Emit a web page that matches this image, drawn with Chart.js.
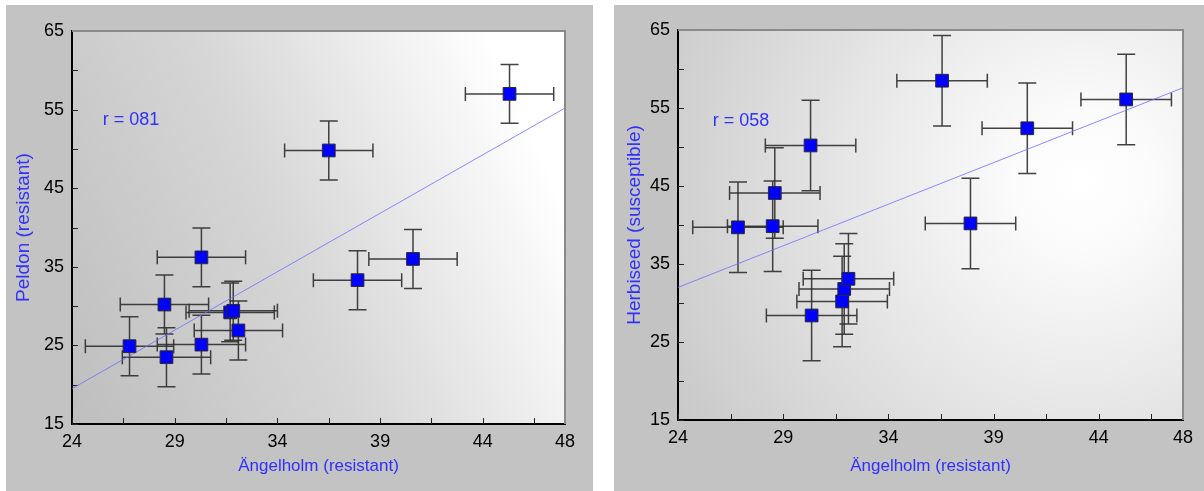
<!DOCTYPE html>
<html><head><meta charset="utf-8">
<script src="https://cdn.jsdelivr.net/npm/chart.js@4.4.0/dist/chart.umd.min.js"></script>
<style>
html,body{margin:0;padding:0;background:#fff;width:1204px;height:491px;overflow:hidden}
canvas{position:absolute;top:0}
#c1{left:0}
#c2{left:604px}
</style></head><body>
<canvas id="c1" width="600" height="491"></canvas>
<canvas id="c2" width="600" height="491"></canvas>
<script>
// ---- data ----
const xTickLabels = [24, 29, 34, 39, 44, 48];
const xTickMarks = [24, 26.5, 29, 31.5, 34, 36.5, 39, 41.5, 44, 46.5, 48];
const yTickMarks = [15, 20, 25, 30, 35, 40, 45, 50, 55, 60, 65];

// Panel 1: Peldon vs Ängelholm
const angelholmA = [26.8, 28.5, 28.6, 30.3, 30.3, 31.7, 31.85, 32.1, 36.5, 37.9, 40.6, 45.3];
const peldon     = [24.9, 30.2, 23.5, 36.2, 25.1, 29.2, 29.4, 26.9, 49.8, 33.3, 36.0, 57.0];
const angelholmErrA = [2.15, 2.15, 2.15, 2.15, 2.15, 2.15, 2.15, 2.15, 2.15, 2.15, 2.15, 2.15];
const peldonErr     = [3.75, 3.75, 3.75, 3.75, 3.75, 3.75, 3.75, 3.75, 3.75, 3.75, 3.75, 3.75];
const fitA = [{x: 24, y: 19.5}, {x: 48, y: 55.2}];
const rTextA = 'r = 081';

// Panel 2: Herbiseed vs Ängelholm
const angelholmB = [26.85, 28.5, 28.6, 30.3, 30.35, 31.8, 31.9, 32.1, 36.55, 37.9, 40.6, 45.3];
const herbiseed  = [39.7, 39.85, 44.1, 50.2, 28.4, 30.2, 31.8, 33.1, 58.5, 40.2, 52.4, 56.1];
const angelholmErrB = [2.15, 2.15, 2.15, 2.15, 2.15, 2.15, 2.15, 2.15, 2.15, 2.15, 2.15, 2.15];
const herbiseedErr  = [5.8, 5.8, 5.8, 5.8, 5.8, 5.8, 5.8, 5.8, 5.8, 5.8, 5.8, 5.8];
const fitB = [{x: 24, y: 32.0}, {x: 48, y: 57.6}];
const rTextB = 'r = 058';

const FONT = '"Liberation Sans", Arial, sans-serif';
const BLUE_TEXT = '#3030ff';

function decoPlugin(cfg) {
  return {
    id: 'deco',
    beforeDraw(chart) {
      const ctx = chart.ctx, a = chart.chartArea;
      ctx.save();
      ctx.fillStyle = '#c3c3c3';
      ctx.fillRect(cfg.box[0], cfg.box[1], cfg.box[2], cfg.box[3]);
      let g;
      if (cfg.radial) {
        const cx = a.left + (a.right - a.left) * 0.8, cy = a.top + 150;
        g = ctx.createRadialGradient(cx, cy, 0, cx, cy, 560);
        g.addColorStop(0, '#ffffff');
        g.addColorStop(0.12, '#fbfbfb');
        g.addColorStop(1, '#bdbdbd');
      } else {
        g = ctx.createLinearGradient(a.left, a.bottom, a.right, a.top + (a.bottom - a.top) * 0.45);
        g.addColorStop(0, '#bebebe');
        g.addColorStop(0.5, '#d6d6d6');
        g.addColorStop(1, '#ffffff');
      }
      ctx.fillStyle = g;
      ctx.fillRect(a.left, a.top, a.right - a.left, a.bottom - a.top);
      ctx.restore();
    },
    beforeDatasetsDraw(chart) {
      const ctx = chart.ctx, xs = chart.scales.x, ys = chart.scales.y, a = chart.chartArea;
      ctx.save();
      ctx.strokeStyle = '#222';
      ctx.lineWidth = 1;
      xTickMarks.forEach(v => {
        const px = Math.round(xs.getPixelForValue(v)) + 0.5;
        ctx.beginPath(); ctx.moveTo(px, a.bottom); ctx.lineTo(px, a.bottom - 6); ctx.stroke();
      });
      yTickMarks.forEach(v => {
        const py = Math.round(ys.getPixelForValue(v)) + 0.5;
        ctx.beginPath(); ctx.moveTo(a.left, py); ctx.lineTo(a.left + 6, py); ctx.stroke();
      });
      ctx.strokeStyle = 'rgba(45,45,45,0.9)';
      ctx.lineWidth = 1.5;
      for (let i = 0; i < cfg.x.length; i++) {
        const px = xs.getPixelForValue(cfg.x[i]);
        const py = ys.getPixelForValue(cfg.y[i]);
        const xl = xs.getPixelForValue(cfg.x[i] - cfg.xe[i]);
        const xr = xs.getPixelForValue(cfg.x[i] + cfg.xe[i]);
        const yt = ys.getPixelForValue(cfg.y[i] + cfg.ye[i]);
        const yb = ys.getPixelForValue(cfg.y[i] - cfg.ye[i]);
        ctx.beginPath();
        ctx.moveTo(xl, py); ctx.lineTo(xr, py);
        ctx.moveTo(xl, py - 7); ctx.lineTo(xl, py + 7);
        ctx.moveTo(xr, py - 7); ctx.lineTo(xr, py + 7);
        ctx.moveTo(px, yt); ctx.lineTo(px, yb);
        ctx.moveTo(px - 9, yt); ctx.lineTo(px + 9, yt);
        ctx.moveTo(px - 9, yb); ctx.lineTo(px + 9, yb);
        ctx.stroke();
      }
      ctx.restore();
    },
    afterDraw(chart) {
      const ctx = chart.ctx, a = chart.chartArea, xs = chart.scales.x, ys = chart.scales.y;
      ctx.save();
      ctx.strokeStyle = '#8a8a8a';
      ctx.lineWidth = 2;
      ctx.beginPath();
      ctx.moveTo(a.left, a.top); ctx.lineTo(a.right, a.top); ctx.lineTo(a.right, a.bottom);
      ctx.stroke();
      ctx.fillStyle = BLUE_TEXT;
      ctx.font = '18px ' + FONT;
      ctx.textBaseline = 'middle';
      ctx.fillText(cfg.rText, xs.getPixelForValue(cfg.rPos[0]), ys.getPixelForValue(cfg.rPos[1]));
      ctx.restore();
    }
  };
}

function makeChart(id, cfg) {
  const pts = cfg.x.map((v, i) => ({x: v, y: cfg.y[i]}));
  return new Chart(document.getElementById(id), {
    type: 'scatter',
    data: {
      datasets: [
        {
          type: 'line', data: cfg.fit, borderColor: 'rgba(110,110,255,0.8)', borderWidth: 1,
          pointRadius: 0, fill: false, order: 2
        },
        {
          data: pts, pointStyle: 'rect', pointRadius: 9, pointHoverRadius: 9,
          backgroundColor: '#0000ff', borderColor: '#2a2a2a', borderWidth: 1, order: 1
        }
      ]
    },
    options: {
      responsive: false, animation: false, devicePixelRatio: 1,
      layout: {padding: {left: cfg.padLeft, right: cfg.padRight, top: cfg.padTop, bottom: 0}},
      plugins: {legend: {display: false}, tooltip: {enabled: false}},
      scales: {
        x: {
          type: 'linear', min: 24, max: 48,
          afterBuildTicks: s => { s.ticks = xTickLabels.map(v => ({value: v})); },
          afterFit: s => { s.height = cfg.xAxisH; },
          grid: {display: false, drawTicks: false},
          border: {display: true, color: '#000', width: 2},
          ticks: {color: '#000', font: {family: FONT, size: 18}, padding: 7, maxRotation: 0, autoSkip: false},
          title: {display: true, text: 'Ängelholm (resistant)', color: BLUE_TEXT,
                  font: {family: FONT, size: 17}, padding: {top: 0, bottom: 14}}
        },
        y: {
          type: 'linear', min: 15, max: 65,
          ticks: {stepSize: 10, color: '#000', font: {family: FONT, size: 18}, padding: 8},
          afterFit: s => { s.width = cfg.yAxisW; },
          grid: {display: false, drawTicks: false},
          border: {display: true, color: '#000', width: 2},
          title: {display: true, text: cfg.yTitle, color: BLUE_TEXT,
                  font: {family: FONT, size: 19}, padding: {top: 0, bottom: 0}}
        }
      }
    },
    plugins: [decoPlugin(cfg)]
  });
}

makeChart('c1', {
  x: angelholmA, y: peldon, xe: angelholmErrA, ye: peldonErr, fit: fitA,
  rText: rTextA, rPos: [25.5, 53.7], yTitle: 'Peldon (resistant)',
  padLeft: 12, padRight: 35, padTop: 31, yAxisW: 60, xAxisH: 67,
  box: [6, 5, 587, 486], radial: false
});
makeChart('c2', {
  x: angelholmB, y: herbiseed, xe: angelholmErrB, ye: herbiseedErr, fit: fitB,
  rText: rTextB, rPos: [25.65, 53.3], yTitle: 'Herbiseed (susceptible)',
  padLeft: 19, padRight: 21, padTop: 30, yAxisW: 55, xAxisH: 71,
  box: [10, 5, 590, 486], radial: true
});
</script>
</body></html>
